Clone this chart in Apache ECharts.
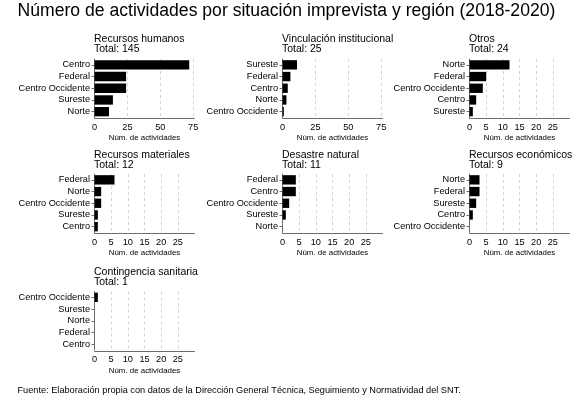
<!DOCTYPE html>
<html><head><meta charset="utf-8">
<script src="https://cdn.jsdelivr.net/npm/echarts@6/dist/echarts.min.js"></script>
<style>html,body{margin:0;padding:0;background:#fff}#c{width:588px;height:398px}</style>
</head><body><div id="c"></div>
<script>
const chartTitle = 'Número de actividades por situación imprevista y región (2018-2020)';
const footnote = 'Fuente: Elaboración propia con datos de la Dirección General Técnica, Seguimiento y Normatividad del SNT.';
const axisTitle = 'Núm. de actividades';

const panelNames = ['Recursos humanos', 'Vinculación institucional', 'Otros', 'Recursos materiales', 'Desastre natural', 'Recursos económicos', 'Contingencia sanitaria'];
const panelTotals = [145, 25, 24, 12, 11, 9, 1];

const cats1 = ['Centro', 'Federal', 'Centro Occidente', 'Sureste', 'Norte'];
const vals1 = [72, 24, 24, 14, 11];
const cats2 = ['Sureste', 'Federal', 'Centro', 'Norte', 'Centro Occidente'];
const vals2 = [11, 6, 4, 3, 1];
const cats3 = ['Norte', 'Federal', 'Centro Occidente', 'Centro', 'Sureste'];
const vals3 = [12, 5, 4, 2, 1];
const cats4 = ['Federal', 'Norte', 'Centro Occidente', 'Sureste', 'Centro'];
const vals4 = [6, 2, 2, 1, 1];
const cats5 = ['Federal', 'Centro', 'Centro Occidente', 'Sureste', 'Norte'];
const vals5 = [4, 4, 2, 1, 0];
const cats6 = ['Norte', 'Federal', 'Sureste', 'Centro', 'Centro Occidente'];
const vals6 = [3, 3, 2, 1, 0];
const cats7 = ['Centro Occidente', 'Sureste', 'Norte', 'Federal', 'Centro'];
const vals7 = [1, 0, 0, 0, 0];

const axisMax = [76, 76, 30, 30, 30, 30, 30];
const axisStep = [25, 25, 5, 5, 5, 5, 5];

const allCats = [cats1, cats2, cats3, cats4, cats5, cats6, cats7];
const allVals = [vals1, vals2, vals3, vals4, vals5, vals6, vals7];

const FONT = '"Liberation Sans", Arial, sans-serif';
const colX = [94.5, 282.5, 469.5];
const rowTop = [59, 174, 291.5];
const titleTop = [33.6, 149.7, 266.7];

const grids = [], xAxes = [], yAxes = [], series = [], titles = [];
titles.push({text: chartTitle, left: 17.5, top: 2.5, padding: 0,
  textStyle: {fontFamily: FONT, fontSize: 17.6, fontWeight: 'normal', color: '#000'}});
titles.push({text: footnote, left: 17.5, top: 386, padding: 0,
  textStyle: {fontFamily: FONT, fontSize: 9.2, fontWeight: 'normal', color: '#000'}});

for (let i = 0; i < 7; i++) {
  const r = Math.floor(i / 3), c = i % 3;
  grids.push({left: colX[c], top: rowTop[r], width: 100, height: 58.5, containLabel: false});
  titles.push({text: panelNames[i] + '\nTotal: ' + panelTotals[i], left: colX[c] - 0.5, top: titleTop[r], padding: 0,
    textStyle: {fontFamily: FONT, fontSize: 10.5, lineHeight: 10.4, fontWeight: 'normal', color: '#000'}});
  xAxes.push({type: 'value', gridIndex: i, min: 0, max: axisMax[i], interval: axisStep[i], offset: 1.2,
    name: axisTitle, nameLocation: 'middle', nameGap: 15.5,
    nameTextStyle: {fontFamily: FONT, fontSize: 7.9, color: '#000'},
    axisLine: {show: true, lineStyle: {color: '#6e6e6e', width: 1}},
    axisTick: {show: false},
    axisLabel: {fontFamily: FONT, fontSize: 9.2, color: '#000', margin: 4, showMaxLabel: false, showMinLabel: true},
    splitLine: {show: true, showMinLine: false, showMaxLine: false, lineStyle: {color: '#d4d4d4', type: [3, 3], width: 1}}
  });
  yAxes.push({type: 'category', gridIndex: i, data: allCats[i], inverse: true,
    axisLine: {show: true, lineStyle: {color: '#6e6e6e', width: 1}},
    axisTick: {show: true, alignWithLabel: true, interval: 0, length: 3, lineStyle: {color: '#6e6e6e'}},
    axisLabel: {fontFamily: FONT, fontSize: 9.2, color: '#000', margin: 4.5, interval: 0},
    splitLine: {show: false}
  });
  series.push({type: 'bar', xAxisIndex: i, yAxisIndex: i, data: allVals[i],
    barCategoryGap: '20%', itemStyle: {color: '#000'}, silent: true});
}

const chart = echarts.init(document.getElementById('c'), null, {renderer: 'canvas'});
chart.setOption({animation: false, backgroundColor: '#fff', title: titles, grid: grids, xAxis: xAxes, yAxis: yAxes, series: series});
</script></body></html>
